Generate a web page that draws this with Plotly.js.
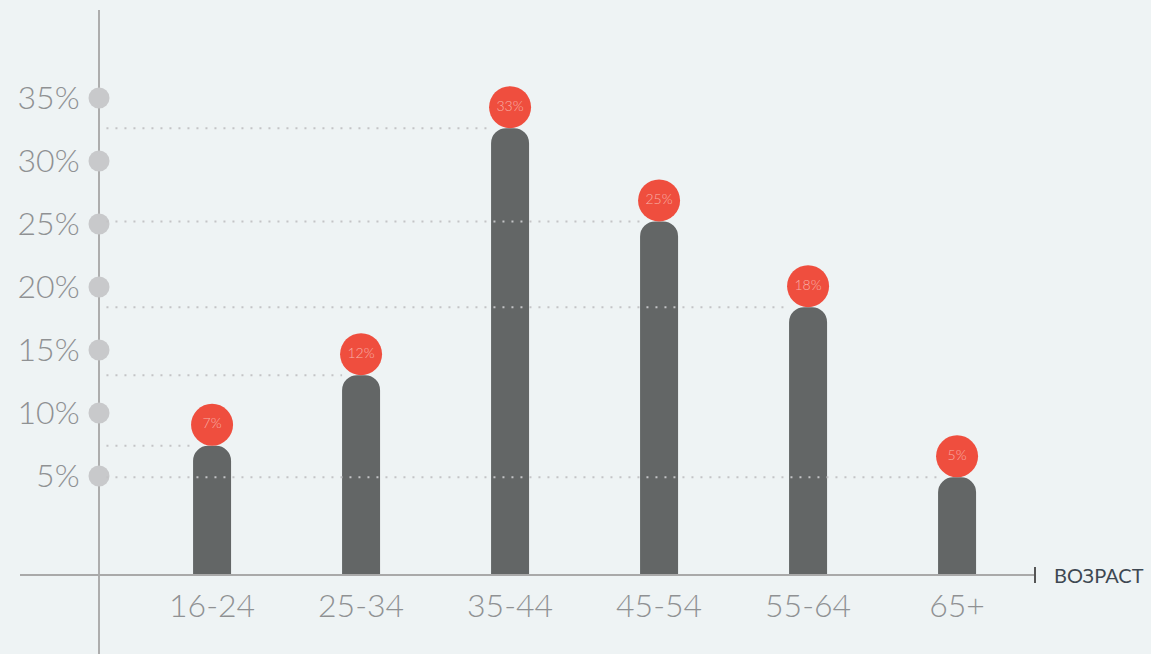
<!DOCTYPE html>
<html>
<head>
<meta charset="utf-8">
<script src="https://cdn.plot.ly/plotly-3.0.1.min.js"></script>
<style>
  html, body { margin: 0; padding: 0; background: #eef3f4; }
  #chart { width: 1151px; height: 654px; }
</style>
</head>
<body>
<div id="chart"></div>
<script>
// ---- data ----
const categories = ['16-24', '25-34', '35-44', '45-54', '55-64', '65+'];
const values = [7.4, 13.0, 32.6, 25.2, 18.4, 4.9];      // bar heights (%)
const valueLabels = ['7%', '12%', '33%', '25%', '18%', '5%'];
const yTickVals = [5, 10, 15, 20, 25, 30, 35];
const yTickText = ['5%', '10%', '15%', '20%', '25%', '30%', '35%'];
const axisTitle = 'ВОЗРАСТ';

// ---- geometry / style ----
const W = 1151, H = 654;
const margin = {l: 20, r: 116, t: 10, b: 79};
const plotW = W - margin.l - margin.r;
const plotH = H - margin.t - margin.b;
const yRange = [-2.857, 41.98];
const xRange = [-1.289, 5.523];
const yAxisPaperX = (99 - margin.l) / plotW;
const yAxisDataX = xRange[0] + yAxisPaperX * (xRange[1] - xRange[0]);
const barWidth = 0.255;
const pxPerUnitY = plotH / (yRange[1] - yRange[0]);
const bubbleOffset = 21 / pxPerUnitY;
const hiddenBase = yRange[0] - 3;   // bar base below the clip so only top corners look rounded

const xIdx = categories.map((c, i) => i);

const bars = {
  type: 'bar',
  x: xIdx,
  y: values.map(v => v - hiddenBase),
  base: hiddenBase,
  width: barWidth,
  marker: {color: '#636666', cornerradius: 15, line: {width: 0}},
  hoverinfo: 'skip'
};

const bubbles = {
  type: 'scatter',
  mode: 'markers+text',
  x: xIdx,
  y: values.map(v => v + bubbleOffset),
  text: valueLabels,
  textposition: 'middle center',
  textfont: {family: 'Lato', size: 14, color: '#f7b0a6', weight: 300},
  marker: {size: 42, color: '#ef4e3e', line: {width: 0}},
  cliponaxis: false,
  hoverinfo: 'skip'
};

const tickDots = {
  type: 'scatter',
  mode: 'markers',
  x: yTickVals.map(() => yAxisDataX),
  y: yTickVals,
  marker: {size: 21, color: '#c8c9cb', line: {width: 0}},
  cliponaxis: false,
  hoverinfo: 'skip'
};

const shapes = [];
// y axis line (extends below x axis)
shapes.push({type: 'line', xref: 'paper', yref: 'paper', x0: yAxisPaperX, x1: yAxisPaperX,
  y0: -margin.b / plotH, y1: 1, line: {color: '#adadad', width: 2}, layer: 'below'});
// x axis line
shapes.push({type: 'line', xref: 'paper', yref: 'paper', x0: 0, x1: 1, y0: 0, y1: 0,
  line: {color: '#a9a9a9', width: 2}, layer: 'above'});
// end tick mark
shapes.push({type: 'line', xref: 'paper', yref: 'paper', x0: 1, x1: 1, y0: -8 / plotH, y1: 8 / plotH,
  line: {color: '#555555', width: 2}});
// dotted guide lines from y axis to each bar
values.forEach((v, i) => {
  shapes.push({type: 'line', xref: 'x', yref: 'y', x0: yAxisDataX + 0.05, x1: i - barWidth / 2,
    y0: v, y1: v, line: {color: '#c3c4c6', width: 2, dash: '2px,7px'}, layer: 'above'});
});

const layout = {
  width: W, height: H,
  margin: margin,
  paper_bgcolor: '#eef3f4',
  plot_bgcolor: '#eef3f4',
  showlegend: false,
  hovermode: false,
  xaxis: {
    range: xRange,
    tickvals: xIdx,
    ticktext: categories,
    showgrid: false, zeroline: false, showline: false,
    ticks: 'outside', ticklen: 3, tickcolor: 'rgba(0,0,0,0)',
    tickfont: {family: 'Lato', size: 32, color: '#8f9193', weight: 300}
  },
  yaxis: {
    range: yRange,
    anchor: 'free', position: yAxisPaperX,
    tickvals: yTickVals,
    ticktext: yTickText,
    showgrid: false, zeroline: false, showline: false,
    ticks: 'outside', ticklen: 13, tickcolor: 'rgba(0,0,0,0)',
    tickfont: {family: 'Lato', size: 32, color: '#8f9193', weight: 300}
  },
  shapes: shapes,
  annotations: [{
    xref: 'paper', yref: 'paper', x: 1, y: 0, xanchor: 'left', yanchor: 'middle',
    xshift: 17, yshift: 0, showarrow: false, text: axisTitle,
    font: {family: 'Lato', size: 20, color: '#3e4852'}
  }]
};

Plotly.newPlot('chart', [bars, tickDots, bubbles], layout, {staticPlot: true, displayModeBar: false});
</script>
</body>
</html>
